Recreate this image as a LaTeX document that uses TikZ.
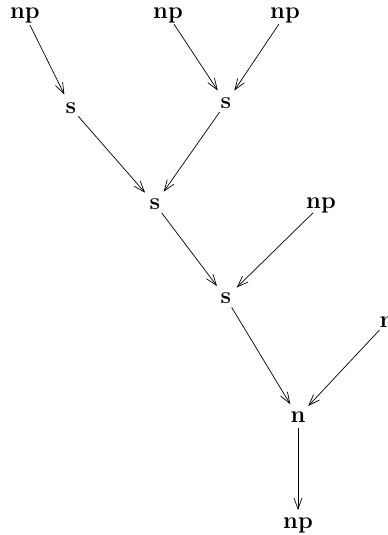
\documentclass[tikz,border=0pt]{standalone}
\usetikzlibrary{arrows.meta}
\tikzset{
  cat/.style={font=\fontsize{13.5}{16}\selectfont\bfseries, inner sep=0pt},
  red/.style={-{Straight Barb[length=2.2mm,width=1.6mm]}, shorten <=0.22cm, shorten >=0.3cm}
}
\begin{document}
\begin{tikzpicture}[x=0.02cm,y=-0.02cm]
  \useasboundingbox (0,0) rectangle (388,535);
  \node[cat] (np1) at (25,15) {np};
  \node[cat] (np2) at (168,15) {np};
  \node[cat] (np3) at (285,15) {np};
  \node[cat] (s1) at (71,108) {s};
  \node[cat] (s2) at (226,103) {s};
  \node[cat] (s3) at (155,204) {s};
  \node[cat] (np4) at (321,205) {np};
  \node[cat] (s4) at (226,298) {s};
  \node[cat] (n1) at (387,322) {n};
  \node[cat] (n2) at (298,417) {n};
  \node[cat] (np5) at (298,525) {np};
  \draw[red] (np1.center) -- (s1.center);
  \draw[red] (np2.center) -- (s2.center);
  \draw[red] (np3.center) -- (s2.center);
  \draw[red] (s1.center) -- (s3.center);
  \draw[red] (s2.center) -- (s3.center);
  \draw[red] (s3.center) -- (s4.center);
  \draw[red] (np4.center) -- (s4.center);
  \draw[red] (s4.center) -- (n2.center);
  \draw[red] (n1.center) -- (n2.center);
  \draw[red] (n2.center) -- (np5.center);
\end{tikzpicture}
\end{document}
